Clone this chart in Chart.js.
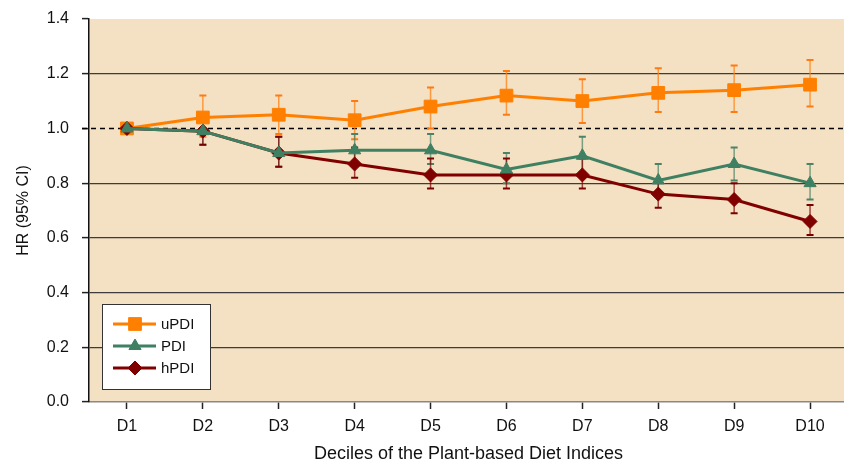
<!DOCTYPE html>
<html>
<head>
<meta charset="utf-8">
<script src="https://cdn.jsdelivr.net/npm/chart.js@4/dist/chart.umd.min.js"></script>
<style>
  html, body { margin: 0; padding: 0; background: #fff; overflow: hidden; }
  #wrap { width: 844px; height: 461px; overflow: hidden; }
  canvas { display: block; }
</style>
</head>
<body>
<div id="wrap"><canvas id="hrChart" width="848" height="461"></canvas></div>
<script>
// Deciles and hazard ratios (95% CI) for each index
const deciles = ['D1', 'D2', 'D3', 'D4', 'D5', 'D6', 'D7', 'D8', 'D9', 'D10'];

const uPDI    = [1.00, 1.04, 1.05, 1.03, 1.08, 1.12, 1.10, 1.13, 1.14, 1.16];
const uPDI_lo = [1.00, 0.97, 0.98, 0.96, 1.00, 1.05, 1.02, 1.06, 1.06, 1.08];
const uPDI_hi = [1.00, 1.12, 1.12, 1.10, 1.15, 1.21, 1.18, 1.22, 1.23, 1.25];

const PDI    = [1.00, 0.99, 0.91, 0.92, 0.92, 0.85, 0.90, 0.81, 0.87, 0.80];
const PDI_lo = [1.00, 0.94, 0.86, 0.87, 0.87, 0.80, 0.84, 0.76, 0.81, 0.74];
const PDI_hi = [1.00, 1.05, 0.97, 0.98, 0.98, 0.91, 0.97, 0.87, 0.93, 0.87];

const hPDI    = [1.00, 0.99, 0.91, 0.87, 0.83, 0.83, 0.83, 0.76, 0.74, 0.66];
const hPDI_lo = [1.00, 0.94, 0.86, 0.82, 0.78, 0.78, 0.78, 0.71, 0.69, 0.61];
const hPDI_hi = [1.00, 1.05, 0.97, 0.93, 0.89, 0.89, 0.89, 0.81, 0.80, 0.72];

const yTicks = [0, 0.2, 0.4, 0.6, 0.8, 1.0, 1.2, 1.4];

const FONT = 'Arial, "Liberation Sans", sans-serif';

// plot area fill
const bgPlugin = {
    id: 'plotBg',
    beforeDraw(chart) {
        const { ctx, chartArea: a } = chart;
        ctx.save();
        ctx.fillStyle = '#F4E0C2';
        ctx.fillRect(a.left, a.top, a.right - a.left, a.bottom - a.top);
        ctx.restore();
    }
};

// dashed reference line at HR = 1
const refLinePlugin = {
    id: 'refLine',
    beforeDatasetsDraw(chart) {
        const { ctx, chartArea: a, scales: { y } } = chart;
        const py = Math.round(y.getPixelForValue(1.0)) + 0.5;
        ctx.save();
        ctx.strokeStyle = '#000';
        ctx.lineWidth = 1.5;
        ctx.setLineDash([5, 4]);
        ctx.beginPath();
        ctx.moveTo(a.left - 7, py);
        ctx.lineTo(a.right, py);
        ctx.stroke();
        ctx.restore();
    }
};

// confidence interval whiskers
const errorBarPlugin = {
    id: 'errorBars',
    beforeDatasetsDraw(chart) {
        const { ctx, scales: { x, y } } = chart;
        ctx.save();
        chart.data.datasets.forEach(ds => {
            ds.data.forEach((v, i) => {
                const lo = ds.ciLow[i], hi = ds.ciHigh[i];
                if (lo === hi) return;
                const px = x.getPixelForValue(i);
                const yl = y.getPixelForValue(lo), yh = y.getPixelForValue(hi);
                ctx.strokeStyle = ds.barColor;
                ctx.lineWidth = 1.5;
                ctx.beginPath();
                ctx.moveTo(px, yl);
                ctx.lineTo(px, yh);
                ctx.stroke();
                ctx.strokeStyle = ds.capColor;
                ctx.lineWidth = 2;
                ctx.beginPath();
                ctx.moveTo(px - 3.5, yl); ctx.lineTo(px + 3.5, yl);
                ctx.moveTo(px - 3.5, yh); ctx.lineTo(px + 3.5, yh);
                ctx.stroke();
            });
        });
        ctx.restore();
    }
};

// boxed legend in the lower left of the plot
const legendBoxPlugin = {
    id: 'legendBox',
    afterDraw(chart) {
        const { ctx } = chart;
        const order = ['uPDI', 'PDI', 'hPDI'];
        ctx.save();
        ctx.fillStyle = '#fff';
        ctx.strokeStyle = '#333';
        ctx.lineWidth = 1;
        ctx.fillRect(102, 304, 108, 85);
        ctx.strokeRect(102.5, 304.5, 108, 85);
        order.forEach((name, k) => {
            const ds = chart.data.datasets.find(d => d.label === name);
            const ry = 324 + k * 22;
            ctx.strokeStyle = ds.borderColor;
            ctx.lineWidth = 3;
            ctx.beginPath();
            ctx.moveTo(113, ry);
            ctx.lineTo(156, ry);
            ctx.stroke();
            ctx.fillStyle = ds.backgroundColor;
            ctx.strokeStyle = ds.borderColor;
            ctx.lineWidth = 1;
            Chart.helpers.drawPoint(ctx, { pointStyle: ds.pointStyle, radius: ds.pointRadius, rotation: 0, borderWidth: 1 }, 135, ry);
            ctx.fillStyle = '#111';
            ctx.font = '15px ' + FONT;
            ctx.textAlign = 'left';
            ctx.textBaseline = 'middle';
            ctx.fillText(name, 161, ry + 1);
        });
        ctx.restore();
    }
};

function series(label, values, lo, hi, color, style, radius, barColor, capColor, order) {
    return {
        label: label,
        data: values,
        ciLow: lo,
        ciHigh: hi,
        borderColor: color,
        backgroundColor: color,
        borderWidth: 3,
        pointStyle: style,
        pointRadius: radius,
        pointHoverRadius: radius,
        pointBorderWidth: 1,
        barColor: barColor,
        capColor: capColor,
        tension: 0,
        order: order
    };
}

new Chart(document.getElementById('hrChart'), {
    type: 'line',
    data: {
        labels: deciles,
        datasets: [
            series('uPDI', uPDI, uPDI_lo, uPDI_hi, '#FF7F00', 'rect', 9, 'rgba(255,130,20,0.75)', '#FF7A10', 3),
            series('PDI', PDI, PDI_lo, PDI_hi, '#3F8062', 'triangle', 7, 'rgba(70,130,100,0.7)', '#4A8468', 1),
            series('hPDI', hPDI, hPDI_lo, hPDI_hi, '#800000', 'rectRot', 7, 'rgba(128,0,0,0.7)', '#7A0000', 2)
        ]
    },
    options: {
        responsive: false,
        devicePixelRatio: 1,
        animation: false,
        layout: { autoPadding: false, padding: { top: 19, left: 0, right: 0, bottom: 0 } },
        plugins: {
            legend: { display: false },
            tooltip: { enabled: false }
        },
        scales: {
            x: {
                offset: true,
                afterFit(scale) { scale.height = 59; },
                grid: {
                    offset: false,
                    drawOnChartArea: false,
                    tickLength: 7,
                    tickColor: '#222',
                    tickWidth: 1.5
                },
                border: { color: '#888', width: 1.5 },
                ticks: {
                    color: '#111',
                    padding: 8,
                    maxRotation: 0,
                    font: { family: FONT, size: 16 }
                },
                title: {
                    display: true,
                    text: 'Deciles of the Plant-based Diet Indices',
                    color: '#111',
                    font: { family: FONT, size: 18, lineHeight: 1 },
                    padding: { top: 0, bottom: -2 }
                }
            },
            y: {
                min: 0,
                max: 1.4,
                afterFit(scale) {
                    scale.width = 89;
                    scale.paddingTop = 0;
                    scale.paddingBottom = 0;
                },
                afterBuildTicks(scale) { scale.ticks = yTicks.map(v => ({ value: v })); },
                grid: {
                    color: ctx => {
                        const v = ctx.tick ? ctx.tick.value : null;
                        if (v === 0 || v === 1.4 || Math.abs(v - 1) < 1e-6) return 'rgba(0,0,0,0)';
                        return '#3c3c3c';
                    },
                    lineWidth: 1.2,
                    tickLength: 7,
                    tickColor: '#222',
                    tickWidth: 1.5
                },
                border: { color: '#111', width: 1.5 },
                ticks: {
                    color: '#111',
                    padding: 13,
                    font: { family: FONT, size: 16 },
                    callback: v => v.toFixed(1)
                },
                title: {
                    display: true,
                    text: 'HR (95% CI)',
                    color: '#111',
                    font: { family: FONT, size: 16, lineHeight: 1 },
                    padding: { top: 16, bottom: 0 }
                }
            }
        }
    },
    plugins: [bgPlugin, refLinePlugin, errorBarPlugin, legendBoxPlugin]
});
</script>
</body>
</html>
